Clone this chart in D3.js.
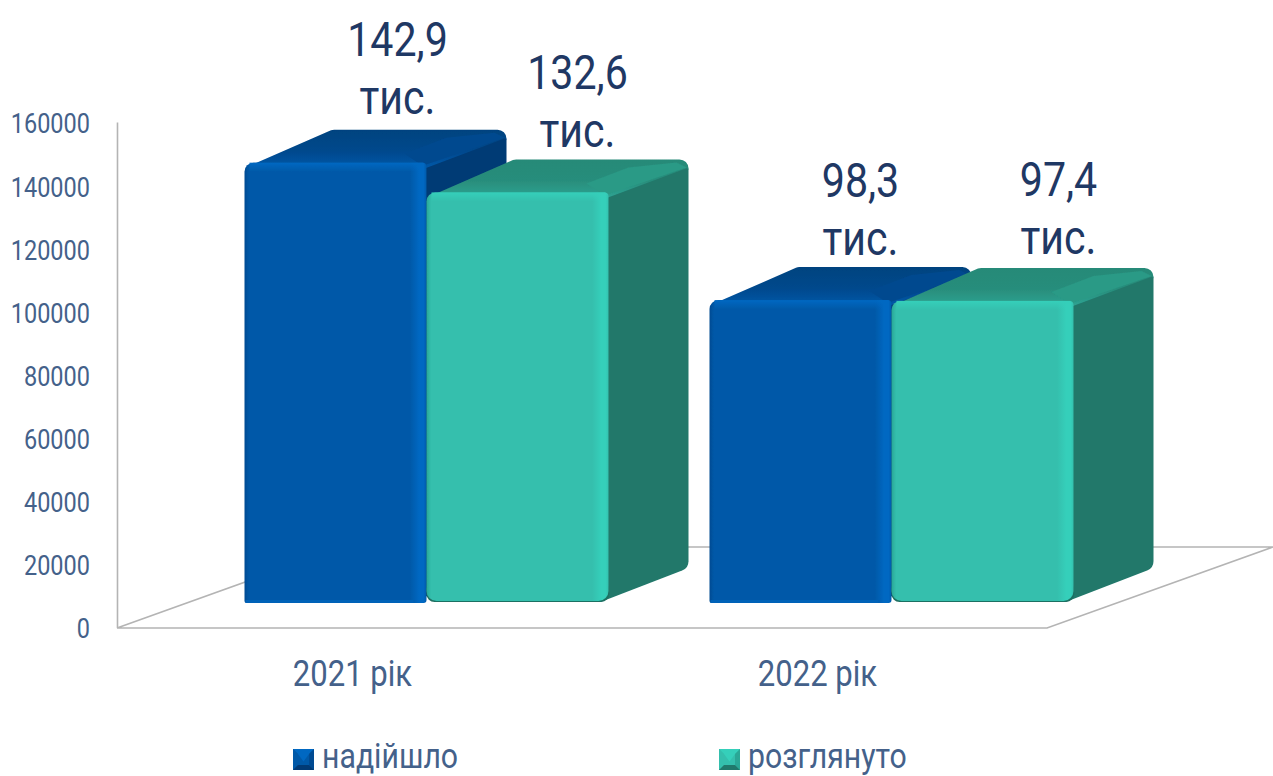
<!DOCTYPE html>
<html>
<head>
<meta charset="utf-8">
<script src="https://cdn.jsdelivr.net/npm/d3@7"></script>
<style>
    html, body { margin: 0; background: #fff; overflow: hidden; }
    text { font-family: Roboto, sans-serif; }
</style>
</head>
<body>
<div id="chart"></div>
<script>
var categories = ["2021 рік", "2022 рік"];
var seriesNames = ["надійшло", "розглянуто"];
var received = [142900, 98300];
var reviewed = [132600, 97400];
var valueLabels = [["142,9", "98,3"], ["132,6", "97,4"]];
var unitLabel = "тис.";
var tickValues = [0, 20000, 40000, 60000, 80000, 100000, 120000, 140000, 160000];

var width = 1273, height = 776;
var textColor = "#1f3864", axisTextColor = "#44618a", lineColor = "#b4b4b4";
var squeeze = 0.84; // the original font is a condensed Roboto

var palette = [
    { front: "#0059a8", edge: "#0068c2", dark: "#004a92", side: "#013a75", topBack: "#03437f", top: "#04488c", topFront: "#0558a8", topLight: "#05498f", bottom: "#0062b8" },
    { front: "#34bfad", edge: "#35cfba", dark: "#2aa796", side: "#20786b", topBack: "#278a78", top: "#288d7b", topFront: "#2ea392", topLight: "#2a9a86", bottom: "#1f6f62" }
];

var svg = d3.select("#chart").append("svg").attr("width", width).attr("height", height)
    .style("display", "block");
var defs = svg.append("defs");
defs.append("filter").attr("id", "soft").append("feGaussianBlur").attr("stdDeviation", 0.7);

palette.forEach(function (c, i) {
    var g = defs.append("linearGradient").attr("id", "front" + i);
    [[0, c.dark], [0.025, c.front], [0.91, c.front], [0.96, c.edge], [0.985, c.edge], [1, c.front]].forEach(function (s) {
        g.append("stop").attr("offset", s[0]).attr("stop-color", s[1]);
    });
    var t = defs.append("linearGradient").attr("id", "top" + i).attr("x2", 0).attr("y2", 1);
    [[0, c.topBack], [0.55, c.top], [1, c.topFront]].forEach(function (s) {
        t.append("stop").attr("offset", s[0]).attr("stop-color", s[1]);
    });
    var e = defs.append("linearGradient").attr("id", "edge" + i).attr("x2", 0).attr("y2", 1);
    e.append("stop").attr("offset", 0).attr("stop-color", c.edge);
    e.append("stop").attr("offset", 1).attr("stop-color", c.edge).attr("stop-opacity", 0);
});

// scales
var yAxis = d3.scaleLinear().domain([0, 160000]).range([627, 122]);
var yBar = d3.scaleLinear().domain([0, 160000]).range([603, 110]);
var xCat = d3.scaleBand().domain(categories).range([117, 1047]);
var xSeries = d3.scaleBand().domain(d3.range(2)).range([-182, 182]);
var barShift = 77;
var depth = { x: 80, y: 33 };
var floorDepth = { x: 226, y: 81 };
var bottomY = 628;

// outline with rounded corners
function roundedPath(pts, r) {
    var p = d3.path(), n = pts.length;
    var last = pts[n - 1], first = pts[0];
    p.moveTo((last[0] + first[0]) / 2, (last[1] + first[1]) / 2);
    pts.forEach(function (pt, i) {
        var next = pts[(i + 1) % n];
        p.arcTo(pt[0], pt[1], next[0], next[1], Array.isArray(r) ? r[i] : r);
    });
    p.closePath();
    return p.toString();
}

// floor and axis
var floor = svg.append("g");
floor.append("path")
    .attr("d", d3.line()([
        [xCat.range()[0], bottomY], [xCat.range()[1], bottomY],
        [xCat.range()[1] + floorDepth.x, bottomY - floorDepth.y],
        [xCat.range()[0] + floorDepth.x, bottomY - floorDepth.y]
    ]) + "Z")
    .attr("fill", "none").attr("stroke", lineColor).attr("stroke-width", 1.6);

var axisG = svg.append("g").attr("transform", "translate(117,0)")
    .call(d3.axisLeft(yAxis).tickValues(tickValues).tickSize(0).tickPadding(0).tickFormat(d3.format("d")));
axisG.select(".domain").attr("stroke", lineColor).attr("stroke-width", 1.6);
axisG.selectAll("text")
    .attr("transform", "translate(-27,2) scale(" + squeeze + ",1)")
    .attr("x", 0)
    .attr("font-size", 28)
    .attr("fill", axisTextColor);

// bars
var barsG = svg.append("g").attr("filter", "url(#soft)");
categories.forEach(function (cat, ci) {
    [received, reviewed].forEach(function (values, si) {
        var c = palette[si];
        var lift = si * 2;
        var x0 = xCat(cat) + xCat.bandwidth() / 2 + barShift + xSeries(si);
        var x1 = x0 + xSeries.bandwidth();
        var base = yBar(0) - lift, top = yBar(values[ci]) - lift;
        var dx = depth.x, dy = depth.y;
        var g = barsG.append("g");

        // side
        g.append("path").attr("fill", c.side)
            .attr("d", roundedPath([[x1 - 8, top + 2], [x1 + dx, top - dy + 6], [x1 + dx, base - dy], [x1 - 8, si === 0 ? base - 4 : base + 1]], [0, 3, 10, 0]));
        // top
        g.append("path").attr("fill", "url(#top" + si + ")")
            .attr("d", roundedPath([[x0 + 1, top + 5], [x0 + dx + 8, top - dy], [x1 + dx, top - dy], [x1 + dx, top - dy + 8], [x1, top + 5]], [2, 8, 9, 2, 1]));
        g.append("path").attr("fill", c.topLight).attr("filter", "url(#soft)")
            .attr("d", d3.line()([[x1 - 22, top - 9], [x1 - 4, top + 3], [x1 + dx - 2, top - dy + 8], [x1 + dx - 12, top - dy + 3], [x1 + 20, top - dy + 8]]) + "Z");
        // front
        if (si === 1) {
            g.append("path").attr("fill", c.bottom)
                .attr("d", roundedPath([[x0, base - 20], [x1, base - 20], [x1 + 1, base + 1], [x0, base + 1]], 8));
        }
        g.append("path").attr("fill", "url(#front" + si + ")")
            .attr("d", roundedPath([[x0, top], [x1, top], [x1, base], [x0, base]], si === 0 ? [9, 4, 3, 2] : [9, 4, 10, 10]));
        g.append("rect").attr("x", x0 + 5).attr("y", top).attr("width", x1 - x0 - 8).attr("height", 9)
            .attr("fill", "url(#edge" + si + ")");
        if (si === 0) {
            g.append("rect").attr("x", x0 + 1).attr("y", base - 3).attr("width", x1 - x0 - 14).attr("height", 3).attr("fill", c.bottom);
        }
    });
});

function condensed(sel, x, y, size, fill, anchor, str) {
    sel.append("text")
        .attr("transform", "translate(" + x + "," + y + ") scale(" + squeeze + ",1)")
        .attr("text-anchor", anchor)
        .attr("font-size", size)
        .attr("fill", fill)
        .text(str);
}

// data labels
var labelsG = svg.append("g");
var labelNudge = [[[2, -1], [0, 3]], [[0, 1], [16, -1]]];
[received, reviewed].forEach(function (values, si) {
    categories.forEach(function (cat, ci) {
        var x = xCat(cat) + xCat.bandwidth() / 2 + barShift + xSeries(si) + xSeries.bandwidth() / 2 + 60 + labelNudge[si][ci][0];
        var y = yBar(values[ci]) - 48 + labelNudge[si][ci][1];
        condensed(labelsG, x, y - 58, 49, textColor, "middle", valueLabels[si][ci]);
        condensed(labelsG, x, y, 49, textColor, "middle", unitLabel);
    });
});

// category labels
categories.forEach(function (cat) {
    condensed(svg, xCat(cat) + xCat.bandwidth() / 2 + 3, 686, 37, axisTextColor, "middle", cat);
});

// legend
var legendX = d3.scaleOrdinal().domain(seriesNames).range([293, 719]);
seriesNames.forEach(function (name, i) {
    var x = legendX(name), c = palette[i], s = 21, y = 749, b = 5;
    // small pyramid marker, four bevelled faces round a square
    var faces = [
        [[x, y], [x + s, y], [x + s - b, y + b], [x + b, y + b]],
        [[x, y], [x + b, y + b], [x + b, y + s - b], [x, y + s]],
        [[x + s, y], [x + s, y + s], [x + s - b, y + s - b], [x + s - b, y + b]],
        [[x, y + s], [x + b, y + s - b], [x + s - b, y + s - b], [x + s, y + s]]
    ];
    var faceColors = [c.edge, c.front, c.dark, c.side];
    svg.append("rect").attr("x", x).attr("y", y).attr("width", s).attr("height", s).attr("fill", c.front);
    faces.forEach(function (f, k) {
        svg.append("path").attr("d", d3.line()(f) + "Z").attr("fill", faceColors[k]);
    });
    svg.append("path").attr("fill", c.edge)
        .attr("d", d3.line()([[x + b, y + b], [x + s - b, y + b], [x + s / 2, y + s / 2 + 2]]) + "Z");
    condensed(svg, x + 29, 768, 36, axisTextColor, "start", name);
});
</script>
</body>
</html>
